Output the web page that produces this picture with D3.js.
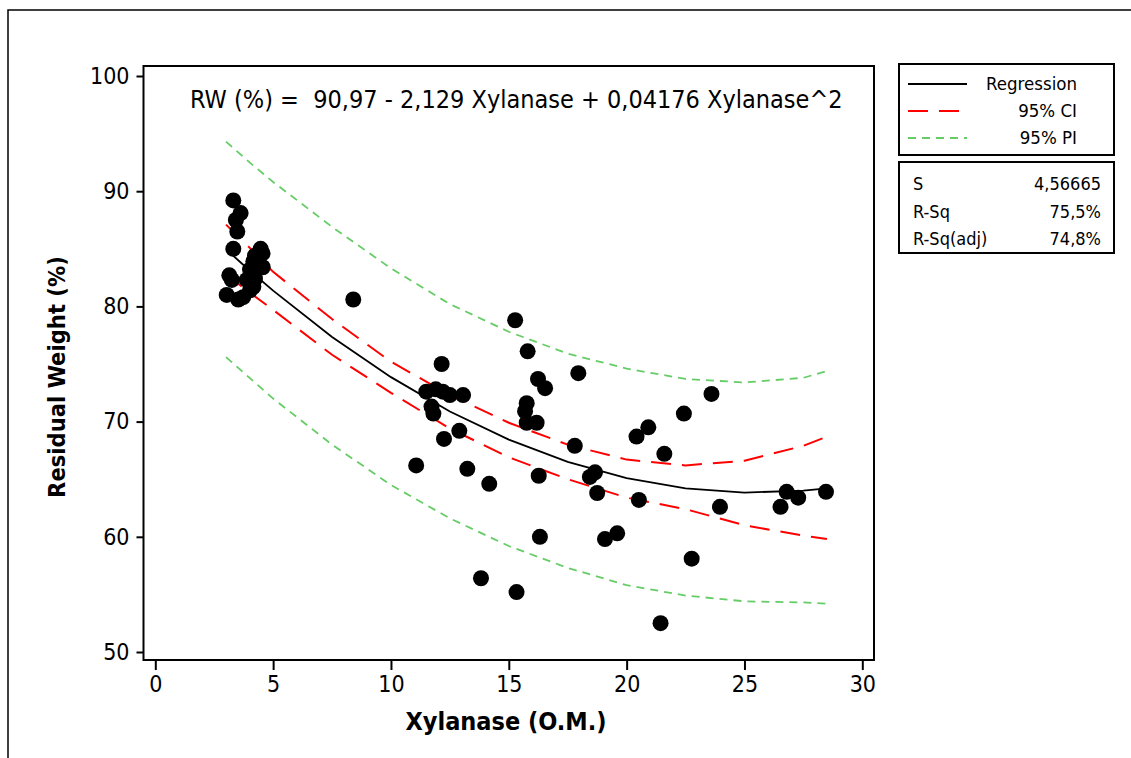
<!DOCTYPE html>
<html><head><meta charset="utf-8">
<script src="https://cdn.jsdelivr.net/npm/d3@7"></script>
<style>
body{margin:0;background:#fff;}
svg{display:block;font-family:"DejaVu Sans Condensed","DejaVu Sans",sans-serif;font-stretch:condensed;}
</style></head>
<body><svg id="c" width="1131" height="758"></svg>
<script>
// ---- data ----
const xylanase = [3.31,3.62,3.42,3.48,3.31,4.47,4.55,4.23,4.56,4.16,3.14,4.02,3.88,4.23,4.02,3.03,3.52,3.73,4.16,3.25,
  8.4,11.07,11.5,11.9,12.2,12.5,13.06,11.72,11.8,12.15,12.25,12.9,13.24,14.17,13.82,15.27,15.33,15.8,15.76,15.69,15.76,16.18,16.24,16.54,16.27,16.32,17.8,17.95,18.44,18.66,18.75,19.08,19.6,20.42,20.52,20.92,21.44,21.6,22.43,22.76,23.6,23.96,26.53,26.79,27.28,28.46];
const residualWeight = [89.2,88.1,87.5,86.5,85.0,85.0,84.6,84.4,83.4,83.9,82.7,83.2,82.3,82.4,81.4,81.0,80.6,80.8,81.7,82.3,
  80.6,66.2,72.6,72.8,72.6,72.3,72.3,71.3,70.7,75.0,68.5,69.2,65.9,64.6,56.4,78.8,55.2,76.1,71.6,70.9,69.9,69.9,73.7,72.9,65.3,60.0,67.9,74.2,65.2,65.6,63.8,59.8,60.3,68.7,63.2,69.5,52.5,67.2,70.7,58.1,72.4,62.6,62.6,63.9,63.4,63.9];
const curveX     = [3.0, 4.0, 5.0, 7.5, 10, 12.5, 15, 17.5, 20, 22.5, 25, 27.5, 28.5];
const regression = [84.96,83.12,81.37,77.35,73.86,70.88,68.43,66.50,65.09,64.21,63.84,64.00,64.21];
const ciUpper    = [87.1,85.1,83.0,78.9,75.2,72.3,69.9,68.0,66.7,66.2,66.6,67.9,68.7];
const ciLower    = [82.8,81.2,79.7,75.8,72.5,69.4,66.9,65.0,63.4,62.4,61.0,60.1,59.8];
const piUpper    = [94.3,92.5,90.8,86.9,83.3,80.2,77.8,75.9,74.6,73.7,73.4,73.8,74.4];
const piLower    = [75.6,73.8,72.0,68.0,64.5,61.6,59.2,57.3,55.8,54.9,54.4,54.3,54.2];
const xTicks = [0,5,10,15,20,25,30];
const yTicks = [50,60,70,80,90,100];
const legendLabels = ["Regression","95% CI","95% PI"];
const statNames = ["S","R-Sq","R-Sq(adj)"];
const statValues = ["4,56665","75,5%","74,8%"];
const equation = "RW (%) =  90,97 - 2,129 Xylanase + 0,04176 Xylanase^2";

const svg = d3.select("#c");
// outer frame
svg.append("rect").attr("x",8).attr("y",10).attr("width",1300).attr("height",900)
  .attr("fill","none").attr("stroke","#000").attr("stroke-width",1.5);

const x = d3.scaleLinear().domain([0,30]).range([155.3,862.3]);
const y = d3.scaleLinear().domain([50,100]).range([652,76]);
const frame = {l:143.5, r:874, t:66, b:660};

// axes
const ya = svg.append("g").attr("transform",`translate(${frame.l},0)`)
  .call(d3.axisLeft(y).tickValues(yTicks).tickSize(7).tickSizeOuter(0).tickPadding(7));
const xa = svg.append("g").attr("transform",`translate(0,${frame.b})`)
  .call(d3.axisBottom(x).tickValues(xTicks).tickSize(10).tickSizeOuter(0).tickPadding(6));
[ya,xa].forEach(g=>{
  g.select(".domain").remove();
  g.selectAll("line").attr("stroke","#000").attr("stroke-width",2);
  g.selectAll("text").attr("font-family","DejaVu Sans Condensed, DejaVu Sans, sans-serif")
    .attr("font-size",23).attr("fill","#000");
});

// frame
svg.append("rect").attr("x",frame.l).attr("y",frame.t).attr("width",frame.r-frame.l).attr("height",frame.b-frame.t)
  .attr("fill","none").attr("stroke","#000").attr("stroke-width",2);

const plot = svg.append("g");
const line = arr => d3.line().x((d,i)=>x(curveX[i])).y(d=>y(d))(arr);
const red = "#ff0000", green = "#66cc66";
[[piUpper,green,"8,6"],[piLower,green,"8,6"]].forEach(([a,c,da])=>
  plot.append("path").attr("d",line(a)).attr("fill","none").attr("stroke",c).attr("stroke-width",1.8).attr("stroke-dasharray",da));
[[ciUpper,red,"20,11"],[ciLower,red,"20,11"]].forEach(([a,c,da])=>
  plot.append("path").attr("d",line(a)).attr("fill","none").attr("stroke",c).attr("stroke-width",2).attr("stroke-dasharray",da));
plot.append("path").attr("d",line(regression)).attr("fill","none").attr("stroke","#000").attr("stroke-width",1.8);

plot.selectAll("circle").data(xylanase).join("circle")
  .attr("cx",d=>x(d)).attr("cy",(d,i)=>y(residualWeight[i])).attr("r",8).attr("fill","#000");

// equation
svg.append("text").attr("x",190).attr("y",108).attr("font-size",25).text(equation).style("white-space","pre");

// axis titles
svg.append("text").attr("x",506).attr("y",730).attr("text-anchor","middle").attr("font-size",25)
  .attr("font-weight","bold").text("Xylanase (O.M.)");
svg.append("text").attr("transform","translate(65,377) rotate(-90)").attr("text-anchor","middle")
  .attr("font-size",23.5).attr("font-weight","bold").text("Residual Weight (%)");

// legend box
svg.append("rect").attr("x",899).attr("y",64).attr("width",215).attr("height",91)
  .attr("fill","none").attr("stroke","#000").attr("stroke-width",2);
const legStyles = [["#000",null,1.8],[red,"20,11",2],[green,"8,6",1.8]];
legendLabels.forEach((t,i)=>{
  const yy = 84 + i*27;
  svg.append("line").attr("x1",908).attr("x2",967).attr("y1",yy).attr("y2",yy)
    .attr("stroke",legStyles[i][0]).attr("stroke-width",legStyles[i][2]).attr("stroke-dasharray",legStyles[i][1]);
  svg.append("text").attr("x",1077).attr("y",yy+6).attr("text-anchor","end").attr("font-size",18.5).text(t);
});
// stats box
svg.append("rect").attr("x",899).attr("y",162).attr("width",215).attr("height",91)
  .attr("fill","none").attr("stroke","#000").attr("stroke-width",2);
statNames.forEach((t,i)=>{
  const yy = 190 + i*27.5;
  svg.append("text").attr("x",913).attr("y",yy).attr("font-size",18).text(t);
  svg.append("text").attr("x",1101).attr("y",yy).attr("text-anchor","end").attr("font-size",18).text(statValues[i]);
});
</script></body></html>
